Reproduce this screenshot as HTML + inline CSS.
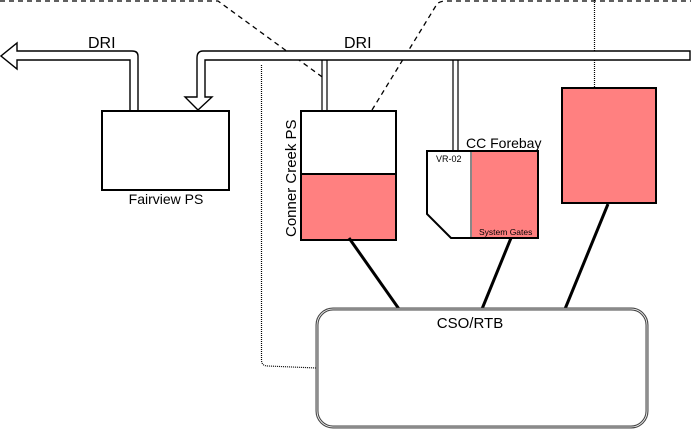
<!DOCTYPE html>
<html><head><style>
body{margin:0;background:#fff;}
svg{display:block;font-family:"Liberation Sans",sans-serif;}
</style></head><body>
<svg width="691" height="429" viewBox="0 0 691 429" xmlns="http://www.w3.org/2000/svg">
<path d="M0,1 H218 L325,79" fill="none" stroke="#000" stroke-width="1.3" stroke-dasharray="5,4"/>
<path d="M372,110 L437,4 Q440,1 446,1 H691" fill="none" stroke="#000" stroke-width="1.3" stroke-dasharray="5,4"/>
<path d="M594.5,0 V88" stroke="#000" stroke-width="1.2" stroke-dasharray="1,1"/>
<path d="M261.5,65 V360 Q261.5,366 268,366 L316,368" fill="none" stroke="#000" stroke-width="1.2" stroke-dasharray="1,1"/>
<path d="M138,111 V56 Q138,51 132,51 H17 V43 L1,56 L17,69 V60 H130 V111" fill="#fff" stroke="#000" stroke-width="1.4"/>
<path d="M690,51 H203 Q197,51 197,58 V97 H185 L198,110 L212,97 H205 V60 H690 Z" fill="#fff" stroke="#000" stroke-width="1.4"/>
<text x="88" y="48" font-size="16">DRI</text>
<text x="344" y="48" font-size="16">DRI</text>
<path d="M322,60 V111 M327,60 V111 M453,60 V151 M458,60 V151" stroke="#000" stroke-width="1.2"/>
<rect x="102" y="111" width="127" height="79" fill="#fff" stroke="#000" stroke-width="2"/>
<text x="166" y="204" font-size="14" text-anchor="middle">Fairview PS</text>
<rect x="301" y="174" width="95" height="66" fill="#ff8080"/>
<rect x="301" y="111" width="95" height="129" fill="none" stroke="#000" stroke-width="2"/>
<line x1="301" y1="174" x2="396" y2="174" stroke="#000" stroke-width="2"/>
<text transform="translate(296,237) rotate(-90)" font-size="15">Conner Creek PS</text>
<rect x="471" y="151" width="67" height="87" fill="#ff8080"/>
<line x1="471" y1="151" x2="471" y2="238" stroke="#888" stroke-width="2"/>
<path d="M427,151 H538 V238 H451 L427,214 Z" fill="none" stroke="#000" stroke-width="2"/>
<text x="466" y="148" font-size="14">CC Forebay</text>
<text x="436" y="162" font-size="9">VR-02</text>
<text x="479" y="235" font-size="8.5">System Gates</text>
<rect x="562" y="88" width="94" height="115" fill="#ff8080" stroke="#000" stroke-width="2"/>
<path d="M349,238 L399,309 M511,238 L482,309 M608,204 L565,309" stroke="#000" stroke-width="3"/>
<rect x="317" y="309" width="330" height="118" rx="16" fill="#fff" stroke="#444" stroke-width="3"/>
<rect x="317" y="309" width="330" height="118" rx="16" fill="none" stroke="#fff" stroke-width="0.8"/>
<text x="470" y="328" font-size="15" text-anchor="middle">CSO/RTB</text>
</svg>
</body></html>
